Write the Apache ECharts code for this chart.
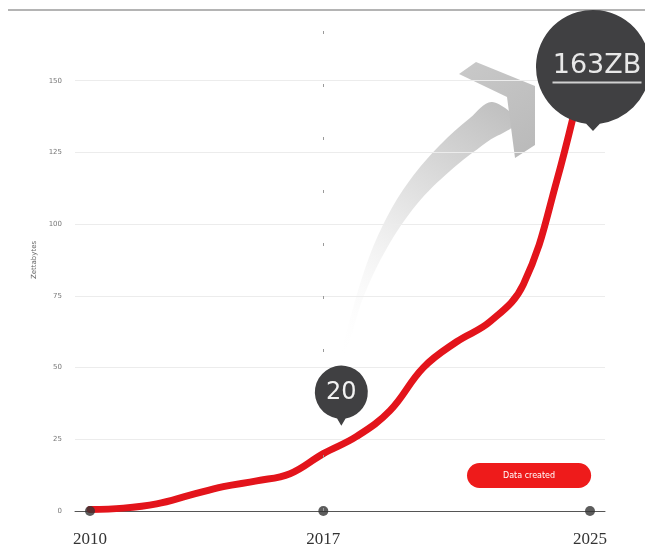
<!DOCTYPE html>
<html>
<head>
<meta charset="utf-8">
<script src="https://cdn.jsdelivr.net/npm/echarts@6/dist/echarts.min.js"></script>
<style>
  html, body { margin: 0; padding: 0; background: #fff; }
  #chart { width: 645px; height: 548px; }
</style>
</head>
<body>
<div id="chart"></div>
<script>
// Global data created per year, in zettabytes
const years = [2010, 2011, 2012, 2013, 2014, 2015, 2016, 2017, 2018, 2019, 2020, 2021, 2022, 2023, 2024, 2025];
const dataCreated = [0.5, 1, 2.5, 5.5, 8.5, 10.5, 13, 20, 26, 35, 50, 59, 66, 79, 115, 163];
const yTicks = [0, 25, 50, 75, 100, 125, 150];
const xTicks = [2010, 2017, 2025];
const calloutYears = [2017, 2025];
const seriesName = 'Data created';
const unit = 'ZB';

// Pin shape: a circle with a small pointer underneath (tip = pointer length, hw = half base width)
function pinPath(tip, hw) {
  const y0 = 50 + Math.sqrt(2500 - hw * hw);
  return 'path://M' + (50 - hw) + ' ' + y0 + ' A50 50 0 1 1 ' + (50 + hw) + ' ' + y0 + ' L50 ' + (100 + tip) + ' Z';
}

const lineData = years.map((y, i) => [y, dataCreated[i]]);
const axisDots = xTicks.map(y => [y, 0]);
const calloutData = calloutYears.map(y => [y, dataCreated[years.indexOf(y)]]);

const calloutStyles = [
  { symbol: pinPath(13, 8), symbolSize: [53, 60], symbolOffset: [18, -58],
    label: { offset: [0, -3], formatter: p => '{s|' + p.value[1] + '}' } },
  { symbolSize: [114, 121], symbolOffset: [3, 27], symbol: pinPath(6, 6),
    label: { offset: [4, -2], formatter: p => '{t|' + p.value[1] + unit + '}\n{u|}' } }
];

const chart = echarts.init(document.getElementById('chart'), null, { renderer: 'canvas' });

chart.setOption({
  animation: false,
  backgroundColor: '#fff',
  grid: { left: 75, right: 40, top: 9, bottom: 37 },
  legend: {
    data: [seriesName],
    left: 457,
    top: 458,
    icon: 'none',
    itemWidth: 0,
    itemHeight: 25,
    itemGap: 0,
    selectedMode: false,
    textStyle: {
      color: '#fff',
      fontSize: 8,
      fontFamily: 'DejaVu Sans',
      backgroundColor: '#ee1b1b',
      borderRadius: 12.5,
      lineHeight: 9,
      padding: [8, 36, 8, 36]
    }
  },
  xAxis: {
    type: 'value',
    min: 2009.55,
    max: 2025.45,
    splitLine: { show: false },
    axisTick: { show: false },
    axisLine: { show: true, lineStyle: { color: '#555', width: 1 } },
    axisLabel: {
      customValues: xTicks,
      margin: 20,
      color: '#333',
      fontSize: 17,
      fontFamily: 'Liberation Serif',
      formatter: v => String(v)
    }
  },
  yAxis: {
    type: 'value',
    min: 0,
    max: 175,
    interval: 25,
    name: 'Zettabytes',
    nameLocation: 'middle',
    nameGap: 28,
    nameTextStyle: { color: '#666', fontSize: 7, fontFamily: 'DejaVu Sans' },
    axisLine: { show: false },
    axisTick: { show: false },
    splitLine: { lineStyle: { color: '#ececec', width: 1 } },
    axisLabel: {
      customValues: yTicks,
      color: '#777',
      fontSize: 7,
      margin: 13,
      fontFamily: 'DejaVu Sans'
    }
  },
  graphic: [
    // frame line across the top
    { type: 'line', z: 1, shape: { x1: 8, y1: 10, x2: 645, y2: 10 },
      style: { stroke: '#b4b4b4', lineWidth: 2 } },
    // growth arrow: curved body
    { type: 'polygon', z: 0,
      shape: {
        smooth: 0.35,
        points: [[340, 362], [347, 330], [367, 263], [387, 217], [410, 180], [440, 145], [470, 118], [492, 102],
                 [516, 122], [487, 142], [450, 171], [417, 204], [387, 248], [363, 298], [350, 340]]
      },
      style: {
        fill: { type: 'linear', x: 0, y: 1, x2: 1, y2: 0,
          colorStops: [{ offset: 0, color: 'rgba(255,255,255,0)' }, { offset: 0.45, color: '#ececec' }, { offset: 1, color: '#bdbdbd' }] }
      } },
    // growth arrow: head
    { type: 'polygon', z: 0,
      shape: { points: [[459, 74], [476, 62], [535, 86], [535, 145], [515, 158], [507, 97]] },
      style: {
        fill: { type: 'linear', x: 0, y: 0, x2: 1, y2: 1,
          colorStops: [{ offset: 0, color: '#c9c9c9' }, { offset: 1, color: '#b9b9b9' }] }
      } }
  ],
  series: [
    {
      name: seriesName,
      type: 'line',
      data: lineData,
      smooth: 0.4,
      symbol: 'none',
      z: 3,
      lineStyle: { color: '#e3141b', width: 7, cap: 'round', join: 'round' },
      itemStyle: { color: '#e3141b' },
      markLine: {
        silent: true,
        symbol: 'none',
        label: { show: false },
        lineStyle: { color: '#9a9a9a', width: 1, type: [3, 50] },
        data: [{ xAxis: xTicks[1] }]
      }
    },
    {
      name: 'axis-years',
      type: 'scatter',
      data: axisDots,
      symbolSize: 10,
      z: 4,
      itemStyle: { color: '#333' },
      silent: true
    },
    {
      name: 'callouts',
      type: 'scatter',
      z: 6,
      silent: true,
      clip: false,
      itemStyle: { color: '#404042', opacity: 1 },
      label: {
        show: true,
        position: 'inside',
        rich: {
          s: { color: '#f2f2f2', fontSize: 24, fontFamily: 'DejaVu Sans' },
          t: { color: '#e8e8e8', fontSize: 27, fontFamily: 'DejaVu Sans', lineHeight: 28 },
          u: { width: 89, height: 2, lineHeight: 4, backgroundColor: '#d0d0d0' }
        }
      },
      data: calloutData.map((d, i) => Object.assign({ value: d }, calloutStyles[i]))
    }
  ]
});
</script>
</body>
</html>
